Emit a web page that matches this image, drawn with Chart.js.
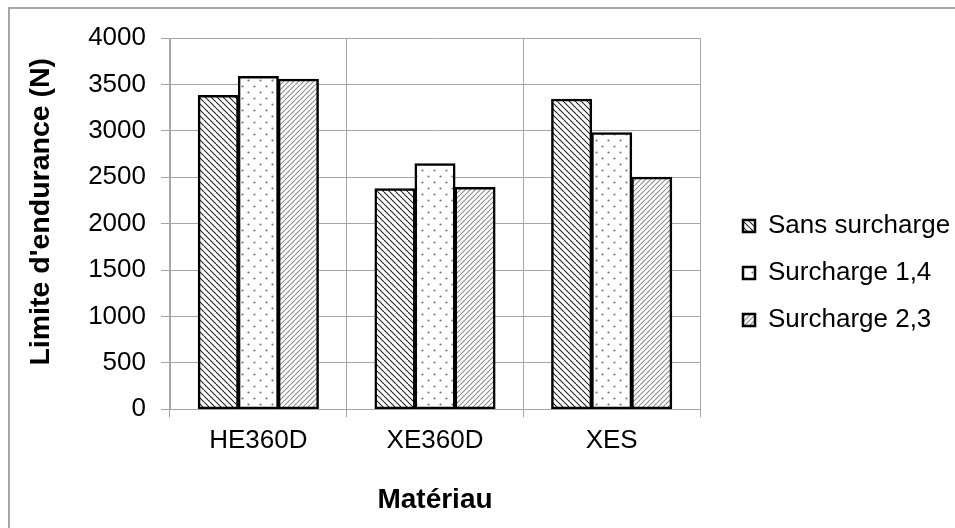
<!DOCTYPE html>
<html>
<head>
<meta charset="utf-8">
<script src="https://cdn.jsdelivr.net/npm/chart.js@4"></script>
<style>
  html, body { margin: 0; padding: 0; background: #fff; overflow: hidden; }
  #frame { position: absolute; left: 8px; top: 7px; width: 980px; height: 560px; border: 2px solid #a6a6a6; }
  #wrap { position: absolute; left: 0; top: 0; width: 955px; height: 528px; }
</style>
</head>
<body>
<div id="frame"></div>
<div id="wrap"><canvas id="chart_endurance" width="955" height="528"></canvas></div>
<script>
const materiaux = ['HE360D', 'XE360D', 'XES'];
const sansSurcharge = [3380, 2375, 3340];
const surcharge14 = [3585, 2645, 2980];
const surcharge23 = [3555, 2390, 2500];

// motifs de remplissage (hachures / points)
function motif(taille, dessin) {
  const c = document.createElement('canvas');
  c.width = taille; c.height = taille;
  const g = c.getContext('2d');
  g.fillStyle = '#fff';
  g.fillRect(0, 0, taille, taille);
  dessin(g, taille);
  return document.createElement('canvas').getContext('2d').createPattern(c, 'repeat');
}

const hachureNoire = motif(6, (g, t) => {
  g.strokeStyle = '#222';
  g.lineWidth = 1.1;
  for (let x = -t; x <= t; x += t) {
    g.beginPath(); g.moveTo(x, 0); g.lineTo(x + t, t); g.stroke();
  }
});

const points = motif(12, (g) => {
  g.fillStyle = '#777';
  g.beginPath(); g.arc(2.5, 2.5, 1.1, 0, Math.PI * 2); g.fill();
  g.beginPath(); g.arc(8.5, 8.5, 1.1, 0, Math.PI * 2); g.fill();
});

const hachureGrise = motif(5, (g, t) => {
  g.strokeStyle = '#8a8a8a';
  g.lineWidth = 1.1;
  for (let x = -t; x <= 2 * t; x += t) {
    g.beginPath(); g.moveTo(x, t); g.lineTo(x + t, 0); g.stroke();
  }
});

const police = "'Liberation Sans', Arial, sans-serif";
const grille = '#a6a6a6';

// axes vides qui ne servent qu'à réserver de la place
const vide = (cote, taille) => ({
  position: cote,
  grid: { display: false },
  border: { display: false },
  ticks: { display: false },
  afterFit: (s) => { if (cote === 'top') s.height = taille; else s.width = taille; }
});

const endurance = document.getElementById('chart_endurance');

new Chart(endurance, {
  type: 'bar',
  data: {
    labels: materiaux,
    datasets: [
      { label: 'Sans surcharge', data: sansSurcharge, backgroundColor: hachureNoire },
      { label: 'Surcharge 1,4', data: surcharge14, backgroundColor: points },
      { label: 'Surcharge 2,3', data: surcharge23, backgroundColor: hachureGrise }
    ]
  },
  options: {
    responsive: false,
    animation: false,
    datasets: {
      bar: {
        borderColor: '#000',
        borderWidth: 2.5,
        borderSkipped: false,
        categoryPercentage: 0.68,
        barPercentage: 1,
        inflateAmount: 0.5
      }
    },
    layout: { padding: { left: 13, top: 18, right: 0, bottom: 0 } },
    plugins: {
      tooltip: { enabled: false },
      legend: {
        position: 'right',
        maxWidth: 233,
        labels: {
          boxWidth: 12,
          boxHeight: 12,
          padding: 21,
          color: '#000',
          font: { family: police, size: 26 }
        }
      }
    },
    scales: {
      x: {
        grid: { color: grille, tickLength: 8, offset: true },
        border: { color: grille },
        ticks: { color: '#000', padding: 8, font: { family: police, size: 26 } },
        title: {
          display: true,
          text: 'Matériau',
          color: '#000',
          padding: { top: 19, bottom: 11 },
          font: { family: police, size: 28, weight: 'bold' }
        }
      },
      y: {
        min: 0,
        max: 4000,
        ticks: {
          stepSize: 500,
          color: '#000',
          padding: 15,
          font: { family: police, size: 26 },
          callback: (v) => String(v)
        },
        grid: { color: grille, tickLength: 9 },
        border: { color: grille },
        title: {
          display: true,
          text: "   Limite d'endurance (N)",
          color: '#000',
          padding: { top: 11, bottom: 30 },
          font: { family: police, size: 28.5, weight: 'bold' }
        }
      },
      marge: vide('right', 22),
      haut: vide('top', 20)
    }
  }
});
</script>
</body>
</html>
